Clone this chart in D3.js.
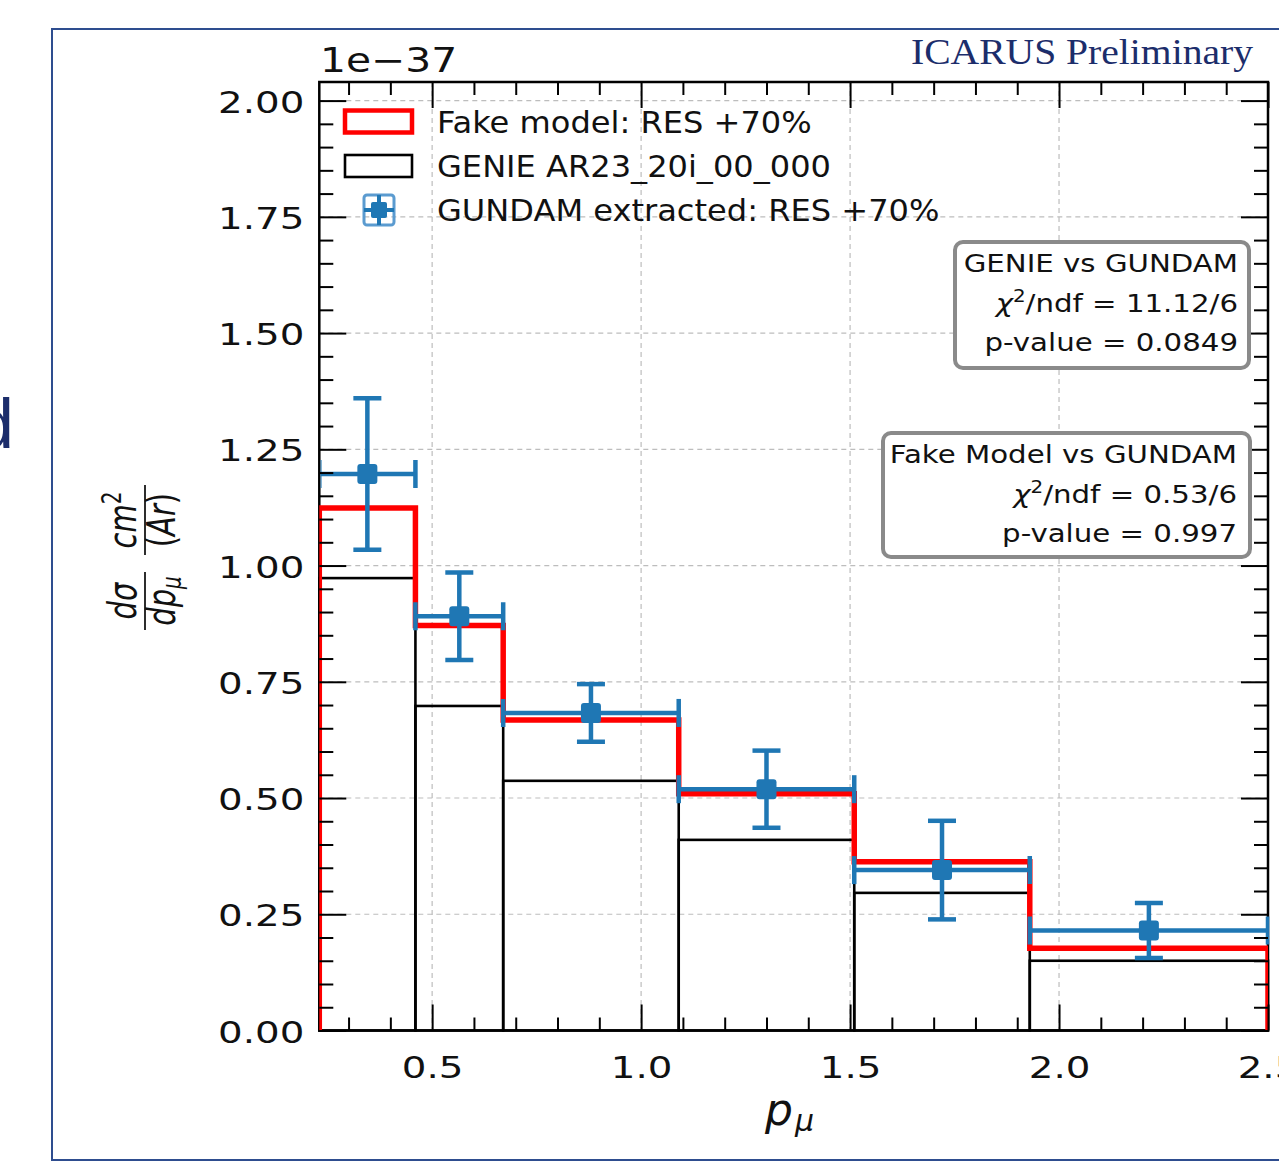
<!DOCTYPE html>
<html>
<head>
<meta charset="utf-8">
<script src="https://cdn.jsdelivr.net/npm/d3@7"></script>
<style>
  body { margin: 0; background: #fff; }
  svg { display: block; }
</style>
</head>
<body>
<svg id="chart" width="1279" height="1164"></svg>
<script>
"use strict"

// Data (cross section in units of 1e-37)
const binEdges = [0.23, 0.46, 0.67, 1.09, 1.51, 1.93, 2.5]
const fakeModel = [1.124, 0.871, 0.668, 0.509, 0.363, 0.177]
const genie = [0.973, 0.698, 0.537, 0.410, 0.296, 0.150]
const gundam = [1.197, 0.891, 0.683, 0.519, 0.345, 0.215]
const gundamErr = [0.163, 0.094, 0.062, 0.083, 0.106, 0.059]

const xMajorTicks = [0.5, 1.0, 1.5, 2.0, 2.5]
const yMajorTicks = [0, 0.25, 0.5, 0.75, 1.0, 1.25, 1.5, 1.75, 2.0]

const legendLabels = ["Fake model: RES +70%", "GENIE AR23_20i_00_000", "GUNDAM extracted: RES +70%"]
const statsTitles = ["GENIE vs GUNDAM", "Fake Model vs GUNDAM"]
const statsChi = ["11.12/6", "0.53/6"]
const statsP = ["0.0849", "0.997"]

const RED = "#ff0000"
const BLUE = "#1f77b4"
const NAVY = "#1c2d6b"
const FONT = "DejaVu Sans"

const svg = d3.select("#chart")

// slide frame and leftover slide text
svg.append("rect")
    .attr("x", 52).attr("y", 29)
    .attr("width", 1300).attr("height", 1131)
    .attr("fill", "none").attr("stroke", "#2e4d8f").attr("stroke-width", 2)
svg.append("text")
    .attr("x", 14).attr("y", 448)
    .attr("text-anchor", "end")
    .style("font-family", "Liberation Sans")
    .style("font-size", "70px").attr("fill", NAVY)
    .text("d")

const x = d3.scaleLinear().domain([0.23, 2.5]).range([319.3, 1268])
const y = d3.scaleLinear().domain([0, 2.04]).range([1030.5, 82])
const [plotLeft, plotRight] = x.range()
const [plotBottom, plotTop] = y.range()

// clip regions for the data
const defs = svg.append("defs")
defs.append("clipPath").attr("id", "clip-plot").append("rect")
    .attr("x", plotLeft).attr("y", plotTop).attr("width", plotRight - plotLeft).attr("height", plotBottom - plotTop)
defs.append("clipPath").attr("id", "clip-inner").append("rect")
    .attr("x", plotLeft + 1.3).attr("y", plotTop).attr("width", plotRight - plotLeft).attr("height", plotBottom - plotTop)

// grid
const grid = svg.append("g").attr("stroke", "#bdbdbd").attr("stroke-width", 1.2)
    .attr("stroke-dasharray", "5,4")
grid.selectAll(".gx").data(xMajorTicks.filter(d => d < 2.5)).enter().append("line")
    .attr("x1", d => x(d)).attr("x2", d => x(d)).attr("y1", plotTop).attr("y2", plotBottom)
grid.selectAll(".gy").data(yMajorTicks.filter(d => d > 0)).enter().append("line")
    .attr("y1", d => y(d)).attr("y2", d => y(d)).attr("x1", plotLeft).attr("x2", plotRight)

// GENIE: open bars
const bins = genie.map((v, i) => ({x0: binEdges[i], x1: binEdges[i + 1], genie: v, val: gundam[i], err: gundamErr[i]}))
svg.append("g").selectAll("rect").data(bins).enter().append("rect")
    .attr("x", d => x(d.x0)).attr("width", d => x(d.x1) - x(d.x0))
    .attr("y", d => y(d.genie)).attr("height", d => y(0) - y(d.genie))
    .attr("fill", "none").attr("stroke", "#000").attr("stroke-width", 2.6)

// spines
svg.append("rect")
    .attr("x", plotLeft).attr("y", plotTop).attr("width", plotRight - plotLeft).attr("height", plotBottom - plotTop)
    .attr("fill", "none").attr("stroke", "#000").attr("stroke-width", 2.5)

// Fake model: step outline
const stepPts = [[binEdges[0], 0]]
fakeModel.forEach((v, i) => { stepPts.push([binEdges[i], v]); stepPts.push([binEdges[i + 1], v]) })
stepPts.push([binEdges[binEdges.length - 1], 0])
svg.append("path")
    .attr("clip-path", "url(#clip-plot)")
    .attr("d", d3.line().x(d => x(d[0])).y(d => y(d[1]))(stepPts))
    .attr("fill", "none").attr("stroke", RED).attr("stroke-width", 5.5)

// GUNDAM: error bars
const cap = 14
const eb = svg.append("g").attr("clip-path", "url(#clip-inner)")
    .attr("stroke", BLUE).attr("stroke-width", 4.5)
const pts = eb.selectAll("g").data(bins).enter().append("g")
const mid = d => x((d.x0 + d.x1) / 2)
pts.append("line")
    .attr("x1", d => x(d.x0)).attr("x2", d => x(d.x1))
    .attr("y1", d => y(d.val)).attr("y2", d => y(d.val))
pts.append("line")
    .attr("x1", d => x(d.x0)).attr("x2", d => x(d.x0))
    .attr("y1", d => y(d.val) - cap).attr("y2", d => y(d.val) + cap)
pts.append("line")
    .attr("x1", d => x(d.x1)).attr("x2", d => x(d.x1))
    .attr("y1", d => y(d.val) - cap).attr("y2", d => y(d.val) + cap)
pts.append("line")
    .attr("x1", mid).attr("x2", mid)
    .attr("y1", d => y(d.val + d.err)).attr("y2", d => y(d.val - d.err))
pts.append("line")
    .attr("x1", d => mid(d) - cap).attr("x2", d => mid(d) + cap)
    .attr("y1", d => y(d.val + d.err)).attr("y2", d => y(d.val + d.err))
pts.append("line")
    .attr("x1", d => mid(d) - cap).attr("x2", d => mid(d) + cap)
    .attr("y1", d => y(d.val - d.err)).attr("y2", d => y(d.val - d.err))
pts.append("rect")
    .attr("x", d => mid(d) - 10).attr("y", d => y(d.val) - 10)
    .attr("width", 20).attr("height", 20).attr("rx", 3)
    .attr("fill", BLUE).attr("stroke", "none")

// ticks, all pointing inward
const xMinor = d3.range(3, 25).map(d => d / 10).filter(d => d % 0.5 > 0.01)
const yMinor = d3.range(1, 41).map(d => d * 0.05).filter(d => Math.abs(d / 0.25 - Math.round(d / 0.25)) > 0.01)

function addAxis(axis, transform){
    const g = svg.append("g").attr("transform", transform).call(axis)
    g.select(".domain").remove()
    g.selectAll(".tick line").attr("stroke", "#000").attr("stroke-width", 2)
    g.selectAll("text").style("font-family", FONT).style("font-size", "31px").attr("fill", "#111")
    return g
}

const xb = addAxis(d3.axisBottom(x).tickValues(xMajorTicks).tickSize(-26).tickFormat(d3.format(".1f")), `translate(0,${plotBottom})`)
xb.selectAll("text").attr("y", 48).attr("dy", null).attr("transform", "scale(1.25,1)")
addAxis(d3.axisBottom(x).tickValues(xMinor).tickSize(-13).tickFormat(""), `translate(0,${plotBottom})`)
addAxis(d3.axisTop(x).tickValues(xMajorTicks).tickSize(-26).tickFormat(""), `translate(0,${plotTop})`)
addAxis(d3.axisTop(x).tickValues(xMinor).tickSize(-13).tickFormat(""), `translate(0,${plotTop})`)

const yl = addAxis(d3.axisLeft(y).tickValues(yMajorTicks).tickSize(-27).tickFormat(d3.format(".2f")), `translate(${plotLeft},0)`)
yl.selectAll("text").attr("x", -12).attr("y", 11.5).attr("dy", null).attr("transform", "scale(1.25,1)")
addAxis(d3.axisLeft(y).tickValues(yMinor).tickSize(-14).tickFormat(""), `translate(${plotLeft},0)`)
addAxis(d3.axisRight(y).tickValues(yMajorTicks).tickSize(-27).tickFormat(""), `translate(${plotRight},0)`)
addAxis(d3.axisRight(y).tickValues(yMinor).tickSize(-14).tickFormat(""), `translate(${plotRight},0)`)

// offset text and label above plot
svg.append("text")
    .attr("transform", "translate(320,72) scale(1.2,1)")
    .style("font-family", FONT).style("font-size", "34px").attr("fill", "#111")
    .text("1e\u221237")
svg.append("text")
    .attr("transform", "translate(1253,64) scale(1.1,1)")
    .attr("text-anchor", "end")
    .style("font-family", "Liberation Serif").style("font-size", "36px").attr("fill", NAVY)
    .text("ICARUS Preliminary")

// x label
const xlab = svg.append("text").style("font-family", FONT).style("font-style", "italic").attr("fill", "#111")
xlab.append("tspan").attr("x", 765).attr("y", 1125).style("font-size", "44px").text("p")
xlab.append("tspan").attr("x", 795).attr("y", 1131).style("font-size", "30px").text("\u03bc")

// y label: two stacked fractions, rotated
const ylab = svg.append("g").attr("transform", "translate(145,557) rotate(-90) scale(1,1.35)")
    .style("font-family", FONT).attr("fill", "#111")
function fraction(cx, w, num, den){
    ylab.append("line").attr("x1", cx - w / 2).attr("x2", cx + w / 2).attr("y1", 0).attr("y2", 0)
        .attr("stroke", "#111").attr("stroke-width", 1.3)
    const n = ylab.append("text").attr("x", cx).attr("y", -7).attr("text-anchor", "middle").style("font-size", "29px")
    num(n)
    const dn = ylab.append("text").attr("x", cx).attr("y", 22).attr("text-anchor", "middle").style("font-size", "29px")
    den(dn)
}
fraction(-44, 58,
    t => t.append("tspan").style("font-style", "italic").text("d\u03c3"),
    t => { t.append("tspan").style("font-style", "italic").text("dp")
           t.append("tspan").style("font-style", "italic").style("font-size", "20px").attr("dy", 5).text("\u03bc") })
fraction(37, 70,
    t => { t.append("tspan").style("font-style", "italic").text("cm")
           t.append("tspan").style("font-size", "20px").attr("dy", -11).text("2") },
    t => { t.append("tspan").text("(")
           t.append("tspan").style("font-style", "italic").text("Ar")
           t.append("tspan").text(")") })

// legend
const legend = svg.append("g")
const legY = [121.5, 166, 210]
legend.append("rect").attr("x", 345).attr("y", legY[0] - 11).attr("width", 67).attr("height", 22)
    .attr("fill", "none").attr("stroke", RED).attr("stroke-width", 4.5)
legend.append("rect").attr("x", 345).attr("y", legY[1] - 11).attr("width", 67).attr("height", 22)
    .attr("fill", "none").attr("stroke", "#000").attr("stroke-width", 2.6)
const lb = legend.append("g").attr("transform", `translate(379,${legY[2]})`).attr("stroke", BLUE)
lb.append("rect").attr("x", -15).attr("y", -15).attr("width", 30).attr("height", 30).attr("rx", 3)
    .attr("fill", "none").attr("stroke", "#5b9bd0").attr("stroke-width", 3)
lb.append("line").attr("x1", -15).attr("x2", 15).attr("y1", 0).attr("y2", 0).attr("stroke-width", 4)
lb.append("line").attr("y1", -15).attr("y2", 15).attr("x1", 0).attr("x2", 0).attr("stroke-width", 4)
lb.append("rect").attr("x", -8).attr("y", -8).attr("width", 16).attr("height", 16).attr("rx", 2)
    .attr("fill", BLUE).attr("stroke", "none")
legend.selectAll("text.lab").data(legendLabels).enter().append("text")
    .attr("transform", (d, i) => `translate(437,${legY[i] + 11}) scale(1.07,1)`)
    .style("font-family", FONT).style("font-size", "30px").attr("fill", "#111")
    .text(d => d)

// stats boxes
const boxes = [
    {x: 955, y: 242, w: 294, h: 126, tx: 1238, base: 272},
    {x: 883, y: 433, w: 367, h: 124, tx: 1237, base: 463}
]
boxes.forEach((b, i) => {
    svg.append("rect").attr("x", b.x).attr("y", b.y).attr("width", b.w).attr("height", b.h)
        .attr("rx", 8).attr("fill", "#fff").attr("stroke", "#8a8a8a").attr("stroke-width", 4)
    const lines = [
        t => t.text(statsTitles[i]),
        t => { t.append("tspan").style("font-style", "italic").text("\u03c7")
               t.append("tspan").style("font-size", "17px").attr("dy", -10).text("2")
               t.append("tspan").attr("dy", 10).text("/ndf = " + statsChi[i]) },
        t => t.text("p-value = " + statsP[i])
    ]
    lines.forEach((fn, k) => {
        const t = svg.append("text")
            .attr("transform", `translate(${b.tx},${b.base + k * 39.5}) scale(1.17,1)`)
            .attr("text-anchor", "end")
            .style("font-family", FONT).style("font-size", "25px").attr("fill", "#111")
        fn(t)
    })
})
</script>
</body>
</html>
